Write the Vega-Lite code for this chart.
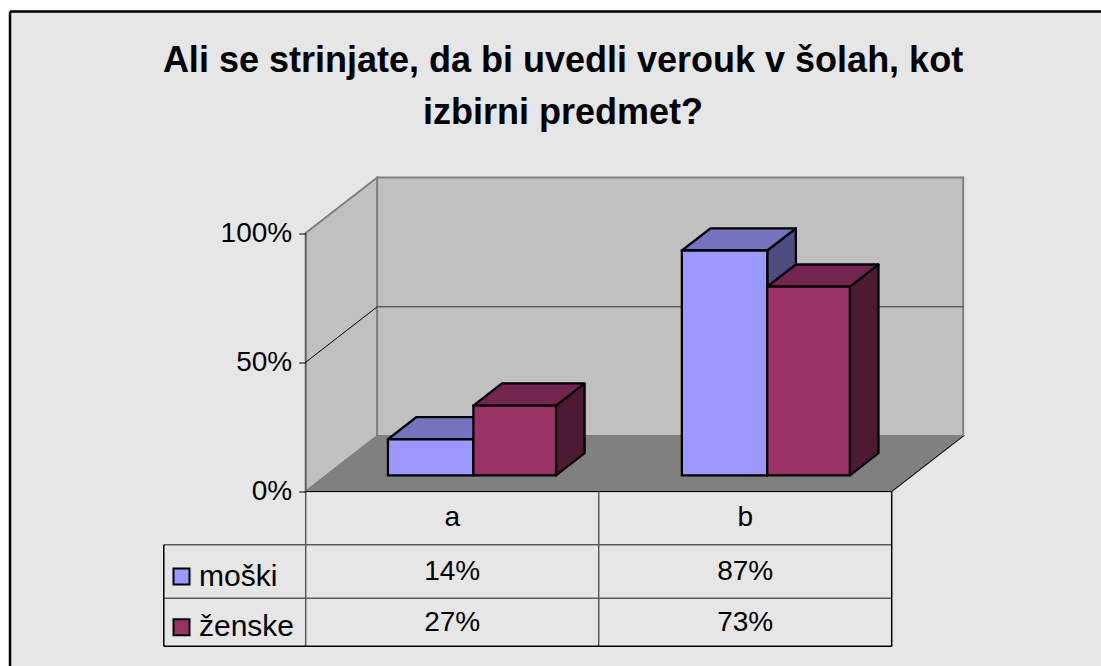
{
"$schema":"https://vega.github.io/schema/vega-lite/v6.json",
"width":1091,"height":654.5,"autosize":{"type":"none"},
"padding":{"left":10,"top":11.5,"right":0,"bottom":0},
"background":"white",
"view":{"fill":"#e6e6e6","stroke":null},
"title":{"text":["Ali se strinjate, da bi uvedli verouk v šolah, kot","izbirni predmet?"],"font":"Liberation Sans","fontSize":36,"fontWeight":"bold","color":"black","anchor":"middle","dx":7.5,"offset":-122,"lineHeight":52},
"datasets":{
"bars":[
{"category":"a","series":"moški","value":14},
{"category":"a","series":"ženske","value":27},
{"category":"b","series":"moški","value":87},
{"category":"b","series":"ženske","value":73}],
"walls":[
{"wall":"left","corner":0,"u":0,"p":0,"depth":0},{"wall":"left","corner":1,"u":0,"p":100,"depth":0},{"wall":"left","corner":2,"u":0,"p":100,"depth":1},{"wall":"left","corner":3,"u":0,"p":0,"depth":1},
{"wall":"back","corner":0,"u":0,"p":0,"depth":1},{"wall":"back","corner":1,"u":2,"p":0,"depth":1},{"wall":"back","corner":2,"u":2,"p":100,"depth":1},{"wall":"back","corner":3,"u":0,"p":100,"depth":1}],
"floor":[{"corner":0,"u":0,"p":0,"depth":0},{"corner":1,"u":2,"p":0,"depth":0},{"corner":2,"u":2,"p":0,"depth":1},{"corner":3,"u":0,"p":0,"depth":1}],
"gridBack":[{"line":"grid","corner":0,"u":0,"p":50,"depth":1},{"line":"grid","corner":1,"u":2,"p":50,"depth":1},{"line":"side","corner":0,"u":0,"p":0,"depth":0},{"line":"side","corner":1,"u":0,"p":100,"depth":0}],
"edges":[{"edge":"grid","corner":0,"u":0,"p":50,"depth":0},{"edge":"grid","corner":1,"u":0,"p":50,"depth":1},{"edge":"front","corner":0,"u":0,"p":0,"depth":0},{"edge":"front","corner":1,"u":2,"p":0,"depth":0},{"edge":"front","corner":2,"u":2,"p":0,"depth":1}],
"tableLines":[
{"kind":"inner","x1":-0.4843,"x2":2,"y1":-20.6,"y2":-20.6},
{"kind":"inner","x1":-0.4843,"x2":2,"y1":-41.3,"y2":-41.3},
{"kind":"inner","x1":0,"x2":0,"y1":0,"y2":-59.9},
{"kind":"inner","x1":1,"x2":1,"y1":0,"y2":-59.9},
{"kind":"outer","x1":2,"x2":2,"y1":0,"y2":-59.9},
{"kind":"outer","x1":-0.4843,"x2":2,"y1":-59.9,"y2":-59.9},
{"kind":"outer","x1":-0.4843,"x2":-0.4843,"y1":-20.6,"y2":-59.9}],
"categories":[{"category":"a","pos":0.5,"row":-10.3},{"category":"b","pos":1.5,"row":-10.3}]
},
"encoding":{
"x":{"type":"quantitative","scale":{"domain":[-1.0092,2.7143],"nice":false,"zero":false},"axis":null},
"y":{"type":"quantitative","scale":{"domain":[-67.5,185.69],"nice":false,"zero":false},"axis":{"orient":"left","offset":-295.7,"values":[0,50,100],"labelExpr":"datum.value+'%'","grid":false,"domain":false,"ticks":true,"tickColor":"black","tickSize":7,"tickWidth":1,"labelFont":"Liberation Sans","labelFontSize":28,"labelColor":"black","labelPadding":7,"title":null,"zindex":1}}
},
"layer":[
{"data":{"name":"walls"},
 "transform":[{"calculate":"datum.u+0.244*datum.depth","as":"px"},{"calculate":"datum.p+21.47*datum.depth","as":"py"}],
 "mark":{"type":"line","interpolate":"linear-closed","fill":"#c0c0c0","stroke":"#808080","strokeWidth":2},
 "encoding":{"x":{"field":"px","type":"quantitative"},"y":{"field":"py","type":"quantitative"},"detail":{"field":"wall"},"order":{"field":"corner"}}},
{"data":{"name":"floor"},
 "transform":[{"calculate":"datum.u+0.244*datum.depth","as":"px"},{"calculate":"datum.p+21.47*datum.depth","as":"py"}],
 "mark":{"type":"line","interpolate":"linear-closed","fill":"#808080","stroke":"#808080","strokeWidth":1.5},
 "encoding":{"x":{"field":"px","type":"quantitative"},"y":{"field":"py","type":"quantitative"},"order":{"field":"corner"}}},
{"data":{"name":"gridBack"},
 "transform":[{"calculate":"datum.u+0.244*datum.depth","as":"px"},{"calculate":"datum.p+21.47*datum.depth","as":"py"}],
 "mark":{"type":"line","stroke":"#606060","strokeWidth":1.5},
 "encoding":{"x":{"field":"px","type":"quantitative"},"y":{"field":"py","type":"quantitative"},"detail":{"field":"line"},"order":{"field":"corner"}}},
{"data":{"name":"edges"},
 "transform":[{"calculate":"datum.u+0.244*datum.depth","as":"px"},{"calculate":"datum.p+21.47*datum.depth","as":"py"}],
 "mark":{"type":"line","stroke":"black","strokeWidth":1},
 "encoding":{"x":{"field":"px","type":"quantitative"},"y":{"field":"py","type":"quantitative"},"detail":{"field":"edge"},"order":{"field":"corner"}}},
{"data":{"name":"bars"},
 "transform":[
 {"calculate":"(datum.category==='b'?1.003:0)+0.21+(datum.series==='ženske'?0.2915:0)","as":"left"},
 {"calculate":"datum.series==='ženske'?0.282:0.2915","as":"w"},
 {"calculate":"[0,1,2,3]","as":"corner"},{"flatten":["corner"]},
 {"calculate":"0.29+0.4*[0,0,1,1][datum.corner]","as":"d"},
 {"calculate":"datum.left+datum.w+0.244*datum.d","as":"px"},
 {"calculate":"[0,1,1,0][datum.corner]*datum.value+21.47*datum.d","as":"py"},
 {"calculate":"datum.category+datum.series","as":"bar"}],
 "mark":{"type":"line","interpolate":"linear-closed","stroke":"black","strokeWidth":2.3,"strokeJoin":"round"},
 "encoding":{"x":{"field":"px","type":"quantitative"},"y":{"field":"py","type":"quantitative"},"detail":{"field":"bar"},"order":{"field":"corner"},
 "fill":{"field":"series","type":"nominal","scale":{"domain":["moški","ženske"],"range":["#4d4d80","#4d1933"]},"legend":null}}},
{"data":{"name":"bars"},
 "transform":[
 {"calculate":"(datum.category==='b'?1.003:0)+0.21+(datum.series==='ženske'?0.2915:0)","as":"left"},
 {"calculate":"datum.series==='ženske'?0.282:0.2915","as":"w"},
 {"calculate":"[0,1,2,3]","as":"corner"},{"flatten":["corner"]},
 {"calculate":"0.29+0.4*[0,0,1,1][datum.corner]","as":"d"},
 {"calculate":"datum.left+datum.w*[0,1,1,0][datum.corner]+0.244*datum.d","as":"px"},
 {"calculate":"datum.value+21.47*datum.d","as":"py"},
 {"calculate":"datum.category+datum.series","as":"bar"}],
 "mark":{"type":"line","interpolate":"linear-closed","stroke":"black","strokeWidth":2.3,"strokeJoin":"round"},
 "encoding":{"x":{"field":"px","type":"quantitative"},"y":{"field":"py","type":"quantitative"},"detail":{"field":"bar"},"order":{"field":"corner"},
 "fill":{"field":"series","type":"nominal","scale":{"domain":["moški","ženske"],"range":["#7373bf","#73264d"]},"legend":null}}},
{"data":{"name":"bars"},
 "transform":[
 {"calculate":"(datum.category==='b'?1.003:0)+0.21+(datum.series==='ženske'?0.2915:0)+0.244*0.29","as":"left"},
 {"calculate":"datum.series==='ženske'?0.282:0.2915","as":"w"},
 {"calculate":"datum.left+datum.w","as":"right"},
 {"calculate":"21.47*0.29","as":"base"},
 {"calculate":"datum.base+datum.value","as":"top"}],
 "mark":{"type":"rect","stroke":"black","strokeWidth":2.3},
 "encoding":{"x":{"field":"left","type":"quantitative"},"x2":{"field":"right"},"y":{"field":"top","type":"quantitative"},"y2":{"field":"base"},
 "fill":{"field":"series","type":"nominal","scale":{"domain":["moški","ženske"],"range":["#9999ff","#993366"]},
 "legend":{"orient":"none","legendX":156.5,"legendY":550,"title":null,"symbolType":"square","symbolSize":256,"symbolStrokeColor":"black","symbolStrokeWidth":2,"labelFont":"Liberation Sans","labelFontSize":30,"labelColor":"black","rowPadding":20.7,"labelOffset":2.5,"labelLimit":200}}}},
{"data":{"name":"tableLines"},
 "mark":{"type":"rule","strokeWidth":1.5},
 "encoding":{"x":{"field":"x1","type":"quantitative"},"x2":{"field":"x2"},"y":{"field":"y1","type":"quantitative"},"y2":{"field":"y2"},
 "stroke":{"field":"kind","type":"nominal","scale":{"domain":["inner","outer"],"range":["#5a5a5a","black"]},"legend":null}}},
{"data":{"name":"categories"},
 "mark":{"type":"text","font":"Liberation Sans","fontSize":28,"color":"black","baseline":"middle"},
 "encoding":{"x":{"field":"pos","type":"quantitative"},"y":{"field":"row","type":"quantitative"},"text":{"field":"category"}}},
{"data":{"name":"bars"},
 "transform":[
 {"calculate":"(datum.category==='b'?1:0)+0.5","as":"pos"},
 {"calculate":"datum.series==='ženske'?-51:-31","as":"row"},
 {"calculate":"datum.value+'%'","as":"label"}],
 "mark":{"type":"text","font":"Liberation Sans","fontSize":28,"color":"black","baseline":"middle"},
 "encoding":{"x":{"field":"pos","type":"quantitative"},"y":{"field":"row","type":"quantitative"},"text":{"field":"label"}}},
{"data":{"values":[{"frame":"left"}]},"mark":{"type":"rule","stroke":"black","strokeWidth":2.5},"encoding":{"x":{"datum":-1.0092}}},
{"data":{"values":[{"frame":"top"}]},"mark":{"type":"rule","stroke":"black","strokeWidth":2.5},"encoding":{"y":{"datum":185.69}}}
],
"resolve":{"scale":{"fill":"independent"}}
}
